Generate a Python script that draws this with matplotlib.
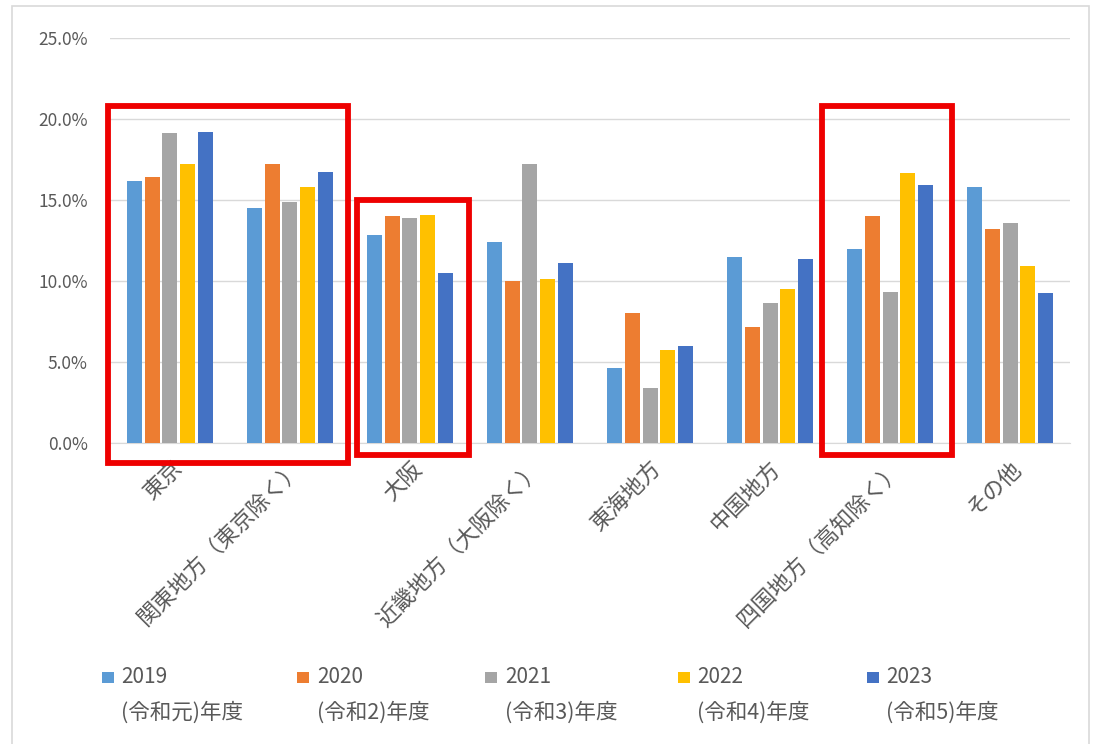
import matplotlib.pyplot as plt
import matplotlib.patches as mpatches
import numpy as np

plt.rcParams['font.family'] = ['Noto Sans CJK JP', 'DejaVu Sans']

regions = ['東京', '関東地方（東京除く）', '大阪', '近畿地方（大阪除く）',
           '東海地方', '中国地方', '四国地方（高知除く）', 'その他']
years = ['2019', '2020', '2021', '2022', '2023']
year_labels = ['(令和元)年度', '(令和2)年度', '(令和3)年度', '(令和4)年度', '(令和5)年度']

share_2019 = [16.2, 14.5, 12.85, 12.4, 4.65, 11.5, 12.0, 15.8]
share_2020 = [16.4, 17.2, 14.0, 10.0, 8.0, 7.15, 14.0, 13.2]
share_2021 = [19.15, 14.85, 13.9, 17.25, 3.4, 8.65, 9.3, 13.6]
share_2022 = [17.25, 15.8, 14.05, 10.1, 5.75, 9.5, 16.65, 10.9]
share_2023 = [19.2, 16.75, 10.5, 11.1, 6.0, 11.35, 15.9, 9.25]
series = [share_2019, share_2020, share_2021, share_2022, share_2023]

colors = ['#5B9BD5', '#ED7D31', '#A5A5A5', '#FFC000', '#4472C4']
text_color = '#595959'

fig = plt.figure(figsize=(10.93, 7.44), dpi=100)
ax = fig.add_axes([0.1006, 0.4046, 0.8784, 0.5444])

x = np.arange(len(regions))
slot = 0.146
width = 0.125
for i, vals in enumerate(series):
    ax.bar(x + (i - 2) * slot, vals, width=width, color=colors[i], zorder=3)

ax.set_xlim(-0.5, len(regions) - 0.5)
ax.set_ylim(0, 25)
ax.set_yticks(np.arange(0, 26, 5))
ax.set_yticklabels([f'{v:.1f}%' for v in np.arange(0, 26, 5)],
                   fontsize=12.5, color=text_color)
ax.yaxis.grid(True, color='#d9d9d9', linewidth=1.0, zorder=0)
ax.tick_params(axis='y', length=0, pad=16)
ax.tick_params(axis='x', length=0, pad=10)
for side in ['top', 'right', 'left']:
    ax.spines[side].set_visible(False)
ax.spines['bottom'].set_color('#d9d9d9')

ax.set_xticks(x)
ax.set_xticklabels(regions, rotation=45, ha='right', va='top',
                   rotation_mode='anchor', fontsize=16, color=text_color)

# highlight boxes around selected regions
highlight = [(-0.517, 1.483, -1.23, 20.8),
             (1.558, 2.49, -0.74, 15.0),
             (5.43, 6.52, -0.74, 20.8)]
for x0, x1, y0, y1 in highlight:
    ax.add_patch(mpatches.Rectangle((x0, y0), x1 - x0, y1 - y0, fill=False,
                                    edgecolor='#ee0000', linewidth=4.2,
                                    clip_on=False, zorder=5))

# legend drawn as square markers with two-line labels
legend_x = [0.093, 0.272, 0.444, 0.620, 0.793]
for lx, c, yr, lab in zip(legend_x, colors, years, year_labels):
    fig.patches.append(mpatches.Rectangle((lx, 0.082), 0.011, 0.015,
                                          transform=fig.transFigure,
                                          facecolor=c, edgecolor='none'))
    fig.text(lx + 0.018, 0.090, yr, fontsize=15, color=text_color, va='center')
    fig.text(lx + 0.018, 0.042, lab, fontsize=15.5, color=text_color, va='center')

# chart frame
fig.patches.append(mpatches.Rectangle((0.011, -0.05), 0.985, 1.042,
                                      transform=fig.transFigure, fill=False,
                                      edgecolor='#d9d9d9', linewidth=1.2))

fig.savefig('out.png', dpi=100)
